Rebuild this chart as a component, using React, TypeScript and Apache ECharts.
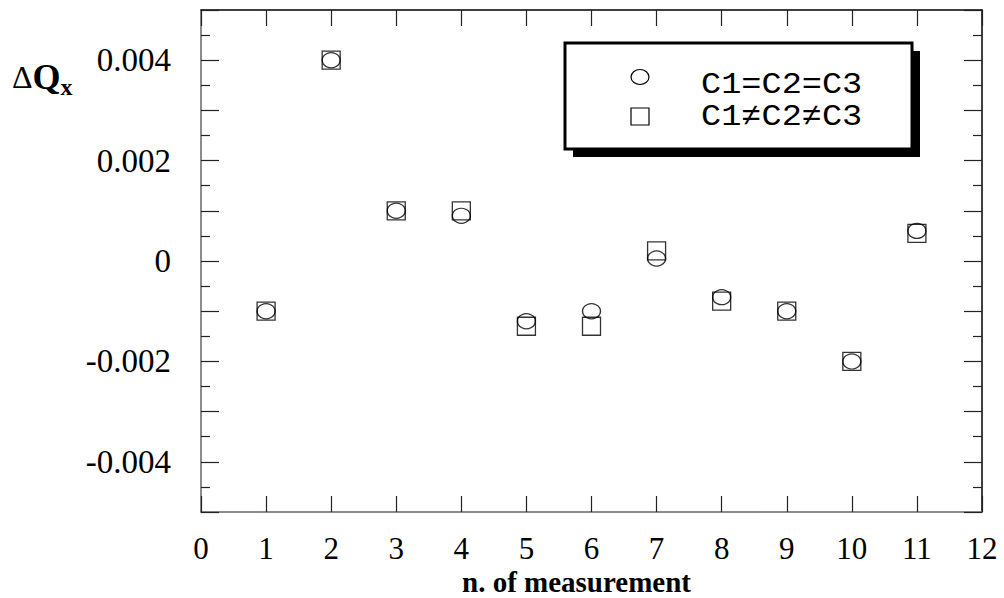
import React, { useEffect, useRef } from "react";
import * as echarts from "echarts";

const measurements = [1, 2, 3, 4, 5, 6, 7, 8, 9, 10, 11];
const equalC = [-0.001, 0.004, 0.001, 0.0009, -0.0012, -0.001, 0.00005, -0.00072, -0.001, -0.002, 0.0006];
const unequalC = [-0.001, 0.004, 0.001, 0.001, -0.0013, -0.0013, 0.0002, -0.0008, -0.001, -0.002, 0.00055];
const legendLabels = ["C1=C2=C3", "C1\u2260C2\u2260C3"];
const xTitle = "n. of measurement";

const serif = "Liberation Serif";
const mono = "Liberation Mono";

export default function App() {
  const ref = useRef<HTMLDivElement>(null);
  useEffect(() => {
    if (!ref.current) return;
    const chart = echarts.init(ref.current, null, { renderer: "svg" });
    const yFmt = (v: number) => {
      const k = Math.round(v * 1000);
      if (k % 2 !== 0) return "";
      if (k === 0) return "0";
      return (k / 1000).toFixed(3);
    };
    const xAxisBase = {
      type: "value" as const,
      min: 0,
      max: 12,
      interval: 1,
      splitLine: { show: false },
    };
    const yAxisBase = {
      type: "value" as const,
      min: -0.005,
      max: 0.005,
      interval: 0.001,
      splitLine: { show: false },
      minorSplitLine: { show: false },
    };
    chart.setOption({
      animation: false,
      backgroundColor: "#fff",
      grid: { left: 201, top: 10, right: 22, bottom: 86, containLabel: false, outerBoundsMode: "none" },
      xAxis: [
        {
          ...xAxisBase,
          position: "bottom",
          axisLine: { onZero: false, lineStyle: { color: "#666", width: 1.5 } },
          axisTick: { inside: true, length: 16, lineStyle: { color: "#222", width: 1.2 } },
          axisLabel: {
            color: "#000",
            fontFamily: serif,
            fontSize: 31,
            lineHeight: 24,
            margin: 24,
            formatter: (v: number) => String(Math.round(v)),
          },
          name: xTitle,
          nameLocation: "middle",
          nameGap: 57,
          nameMoveOverlap: false,
          nameTextStyle: {
            color: "#000",
            fontFamily: serif,
            fontWeight: "bold",
            fontSize: 29,
            lineHeight: 26,
            padding: [0, 30, 0, 0],
          },
        },
        {
          ...xAxisBase,
          position: "top",
          axisLine: { onZero: false, lineStyle: { color: "#000", width: 1.5 } },
          axisTick: { inside: true, length: 16, lineStyle: { color: "#222", width: 1.2 } },
          axisLabel: { show: false },
        },
      ],
      yAxis: [
        {
          ...yAxisBase,
          position: "left",
          axisLine: { onZero: false, lineStyle: { color: "#666", width: 1.5 } },
          axisTick: { inside: true, length: 18, lineStyle: { color: "#222", width: 1.2 } },
          minorTick: { show: true, splitNumber: 2, length: 9, lineStyle: { color: "#222", width: 1.2 } },
          axisLabel: {
            color: "#000",
            fontFamily: serif,
            fontSize: 33,
            margin: 30,
            formatter: yFmt,
          },
        },
        {
          ...yAxisBase,
          position: "right",
          axisLine: { onZero: false, lineStyle: { color: "#000", width: 1.5 } },
          axisTick: { inside: true, length: 18, lineStyle: { color: "#222", width: 1.2 } },
          minorTick: { show: true, splitNumber: 2, length: 9, lineStyle: { color: "#222", width: 1.2 } },
          axisLabel: { show: false },
        },
      ],
      series: [
        {
          name: legendLabels[0],
          type: "scatter",
          xAxisIndex: 0,
          yAxisIndex: 0,
          symbol: "circle",
          symbolSize: [18, 15],
          itemStyle: { color: "rgba(255,255,255,0)", borderColor: "#000", borderWidth: 1.3 },
          data: measurements.map((m, i) => [m, equalC[i]]),
          z: 3,
        },
        {
          name: legendLabels[1],
          type: "scatter",
          xAxisIndex: 0,
          yAxisIndex: 0,
          symbol: "rect",
          symbolSize: 18,
          itemStyle: { color: "rgba(255,255,255,0)", borderColor: "#000", borderWidth: 1.3 },
          data: measurements.map((m, i) => [m, unequalC[i]]),
          z: 2,
        },
      ],
      graphic: [
        {
          type: "rect",
          shape: { x: 573, y: 51, width: 347, height: 106 },
          style: { fill: "#000" },
          z: 10,
        },
        {
          type: "rect",
          shape: { x: 565, y: 43, width: 347, height: 106 },
          style: { fill: "#fff", stroke: "#000", lineWidth: 3 },
          z: 11,
        },
        {
          type: "ellipse",
          shape: { cx: 640, cy: 77, rx: 9, ry: 7.5 },
          style: { fill: "none", stroke: "#000", lineWidth: 1.2 },
          z: 12,
        },
        {
          type: "rect",
          shape: { x: 631, y: 108, width: 18, height: 17 },
          style: { fill: "none", stroke: "#000", lineWidth: 1.2 },
          z: 12,
        },
        {
          type: "text",
          x: 701,
          y: 85,
          scaleX: 1.12,
          style: {
            text: legendLabels[0],
            fontFamily: mono,
            fontSize: 30,
            fill: "#000",
            verticalAlign: "middle",
            align: "left",
          },
          z: 12,
        },
        {
          type: "text",
          x: 701,
          y: 117,
          scaleX: 1.12,
          style: {
            text: legendLabels[1],
            fontFamily: mono,
            fontSize: 30,
            fill: "#000",
            verticalAlign: "middle",
            align: "left",
          },
          z: 12,
        },
        {
          type: "text",
          x: 12,
          y: 77,
          style: {
            text: "{d|\u0394}{q|Q}{s|x}",
            verticalAlign: "middle",
            rich: {
              d: { fontFamily: serif, fontSize: 32, color: "#000" },
              q: { fontFamily: serif, fontSize: 36, fontWeight: "bold", color: "#000" },
              s: { fontFamily: serif, fontSize: 24, fontWeight: "bold", color: "#000", padding: [20, 0, 0, 0] },
            },
          },
          z: 12,
        },
      ],
    });
    return () => chart.dispose();
  }, []);
  return (
    <div
      ref={ref}
      style={{ position: "fixed", left: 0, top: 0, width: 1004, height: 598, background: "#fff" }}
    />
  );
}
